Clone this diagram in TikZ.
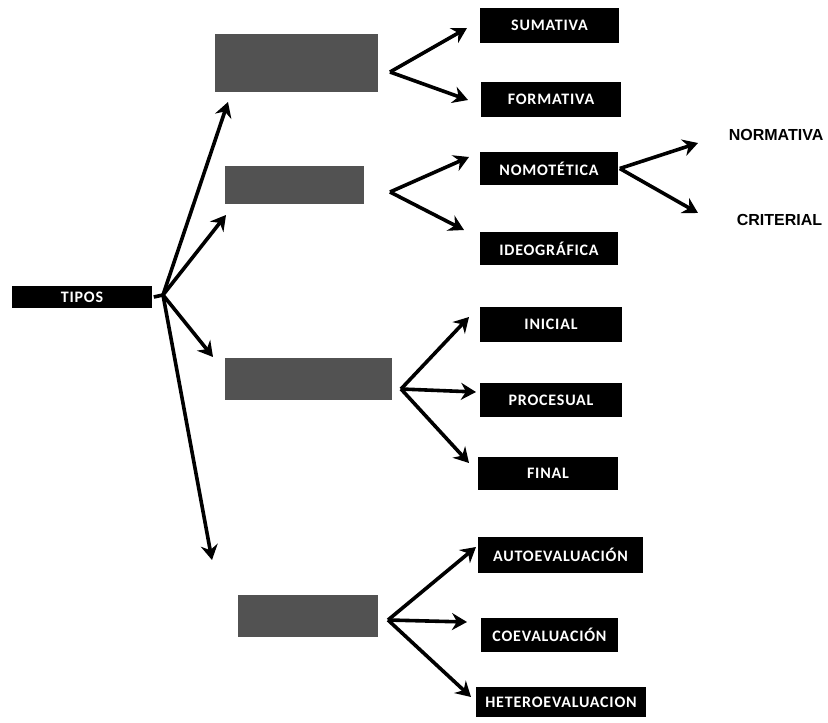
\documentclass[tikz,border=0pt]{standalone}
\usepackage{fontspec}
\setmainfont{Carlito}
\newfontfamily\boxfont[LetterSpace=5]{Carlito}
\newfontfamily\endfont{Liberation Sans}
\usetikzlibrary{arrows.meta}
\begin{document}
\begin{tikzpicture}[x=1pt, y=-1pt, line width=3.6pt,
  >={Stealth[length=15pt, width=17pt, inset=5pt]},
  dark/.style = {fill=black, text=white, inner sep=0pt, font=\boxfont\bfseries\fontsize{16}{16}\selectfont},
  grey/.style = {fill=black!68, inner sep=0pt},
  plain/.style = {anchor=west, inner sep=0pt, font=\endfont\bfseries\fontsize{16}{16}\selectfont}]
\useasboundingbox (0,0) rectangle (828,723);
\node[dark, minimum width=140pt, minimum height=22pt] (0) at (82,297) {TIPOS};
\node[grey, minimum width=163pt, minimum height=58pt] (1) at (296.5,63) {};
\node[grey, minimum width=139pt, minimum height=38pt] (2) at (294.5,185) {};
\node[grey, minimum width=167pt, minimum height=42pt] (3) at (308.5,379) {};
\node[grey, minimum width=140pt, minimum height=42pt] (4) at (308,616) {};
\node[dark, minimum width=139pt, minimum height=35pt] (11) at (549.5,25.5) {SUMATIVA};
\node[dark, minimum width=140pt, minimum height=35pt] (12) at (551,99.5) {FORMATIVA};
\node[dark, minimum width=138pt, minimum height=33pt] (21) at (549,168.5) {NOMOTÉTICA};
\node[dark, minimum width=138pt, minimum height=33pt] (22) at (549,248.5) {IDEOGRÁFICA};
\node[plain] (211) at (727,135) {NORMATIVA};
\node[plain] (212) at (735,220) {CRITERIAL};
\node[dark, minimum width=142pt, minimum height=35pt] (31) at (551,324.5) {INICIAL};
\node[dark, minimum width=142pt, minimum height=34pt] (32) at (551,400) {PROCESUAL};
\node[dark, minimum width=140pt, minimum height=33pt] (33) at (548,473.5) {FINAL};
\node[dark, minimum width=165pt, minimum height=36pt] (41) at (560.5,555) {AUTOEVALUACIÓN};
\node[dark, minimum width=137pt, minimum height=34pt] (42) at (549.5,635) {COEVALUACIÓN};
\node[dark, minimum width=170pt, minimum height=30pt] (43) at (561,702) {HETEROEVALUACION};
\coordinate (v0) at (163,295);
\coordinate (v1) at (390,72);
\coordinate (v2) at (390,192);
\coordinate (v3) at (401,389);
\coordinate (v4) at (388,620);
\coordinate (t1) at (228,102);
\coordinate (t2) at (226,215);
\coordinate (t3) at (213,357);
\coordinate (t4) at (212,560);
\coordinate (t11) at (467,28);
\coordinate (t12) at (468,100);
\coordinate (t21) at (469,157);
\coordinate (t22) at (464,230);
\coordinate (t211) at (698,143);
\coordinate (t212) at (698,213);
\coordinate (t31) at (469,317);
\coordinate (t32) at (476,392);
\coordinate (t33) at (469,463);
\coordinate (t41) at (476,547);
\coordinate (t42) at (467,622);
\coordinate (t43) at (471,697);
\draw (0.east) -- (v0);
\draw[->] (v0) -- (t1);
\draw[->] (v0) -- (t2);
\draw[->] (v0) -- (t3);
\draw[->] (v0) -- (t4);
\draw[->] (v1) -- (t11);
\draw[->] (v1) -- (t12);
\draw[->] (v2) -- (t21);
\draw[->] (v2) -- (t22);
\draw[->] (21.east) -- (t211);
\draw[->] (21.east) -- (t212);
\draw[->] (v3) -- (t31);
\draw[->] (v3) -- (t32);
\draw[->] (v3) -- (t33);
\draw[->] (v4) -- (t41);
\draw[->] (v4) -- (t42);
\draw[->] (v4) -- (t43);
\end{tikzpicture}
\end{document}
